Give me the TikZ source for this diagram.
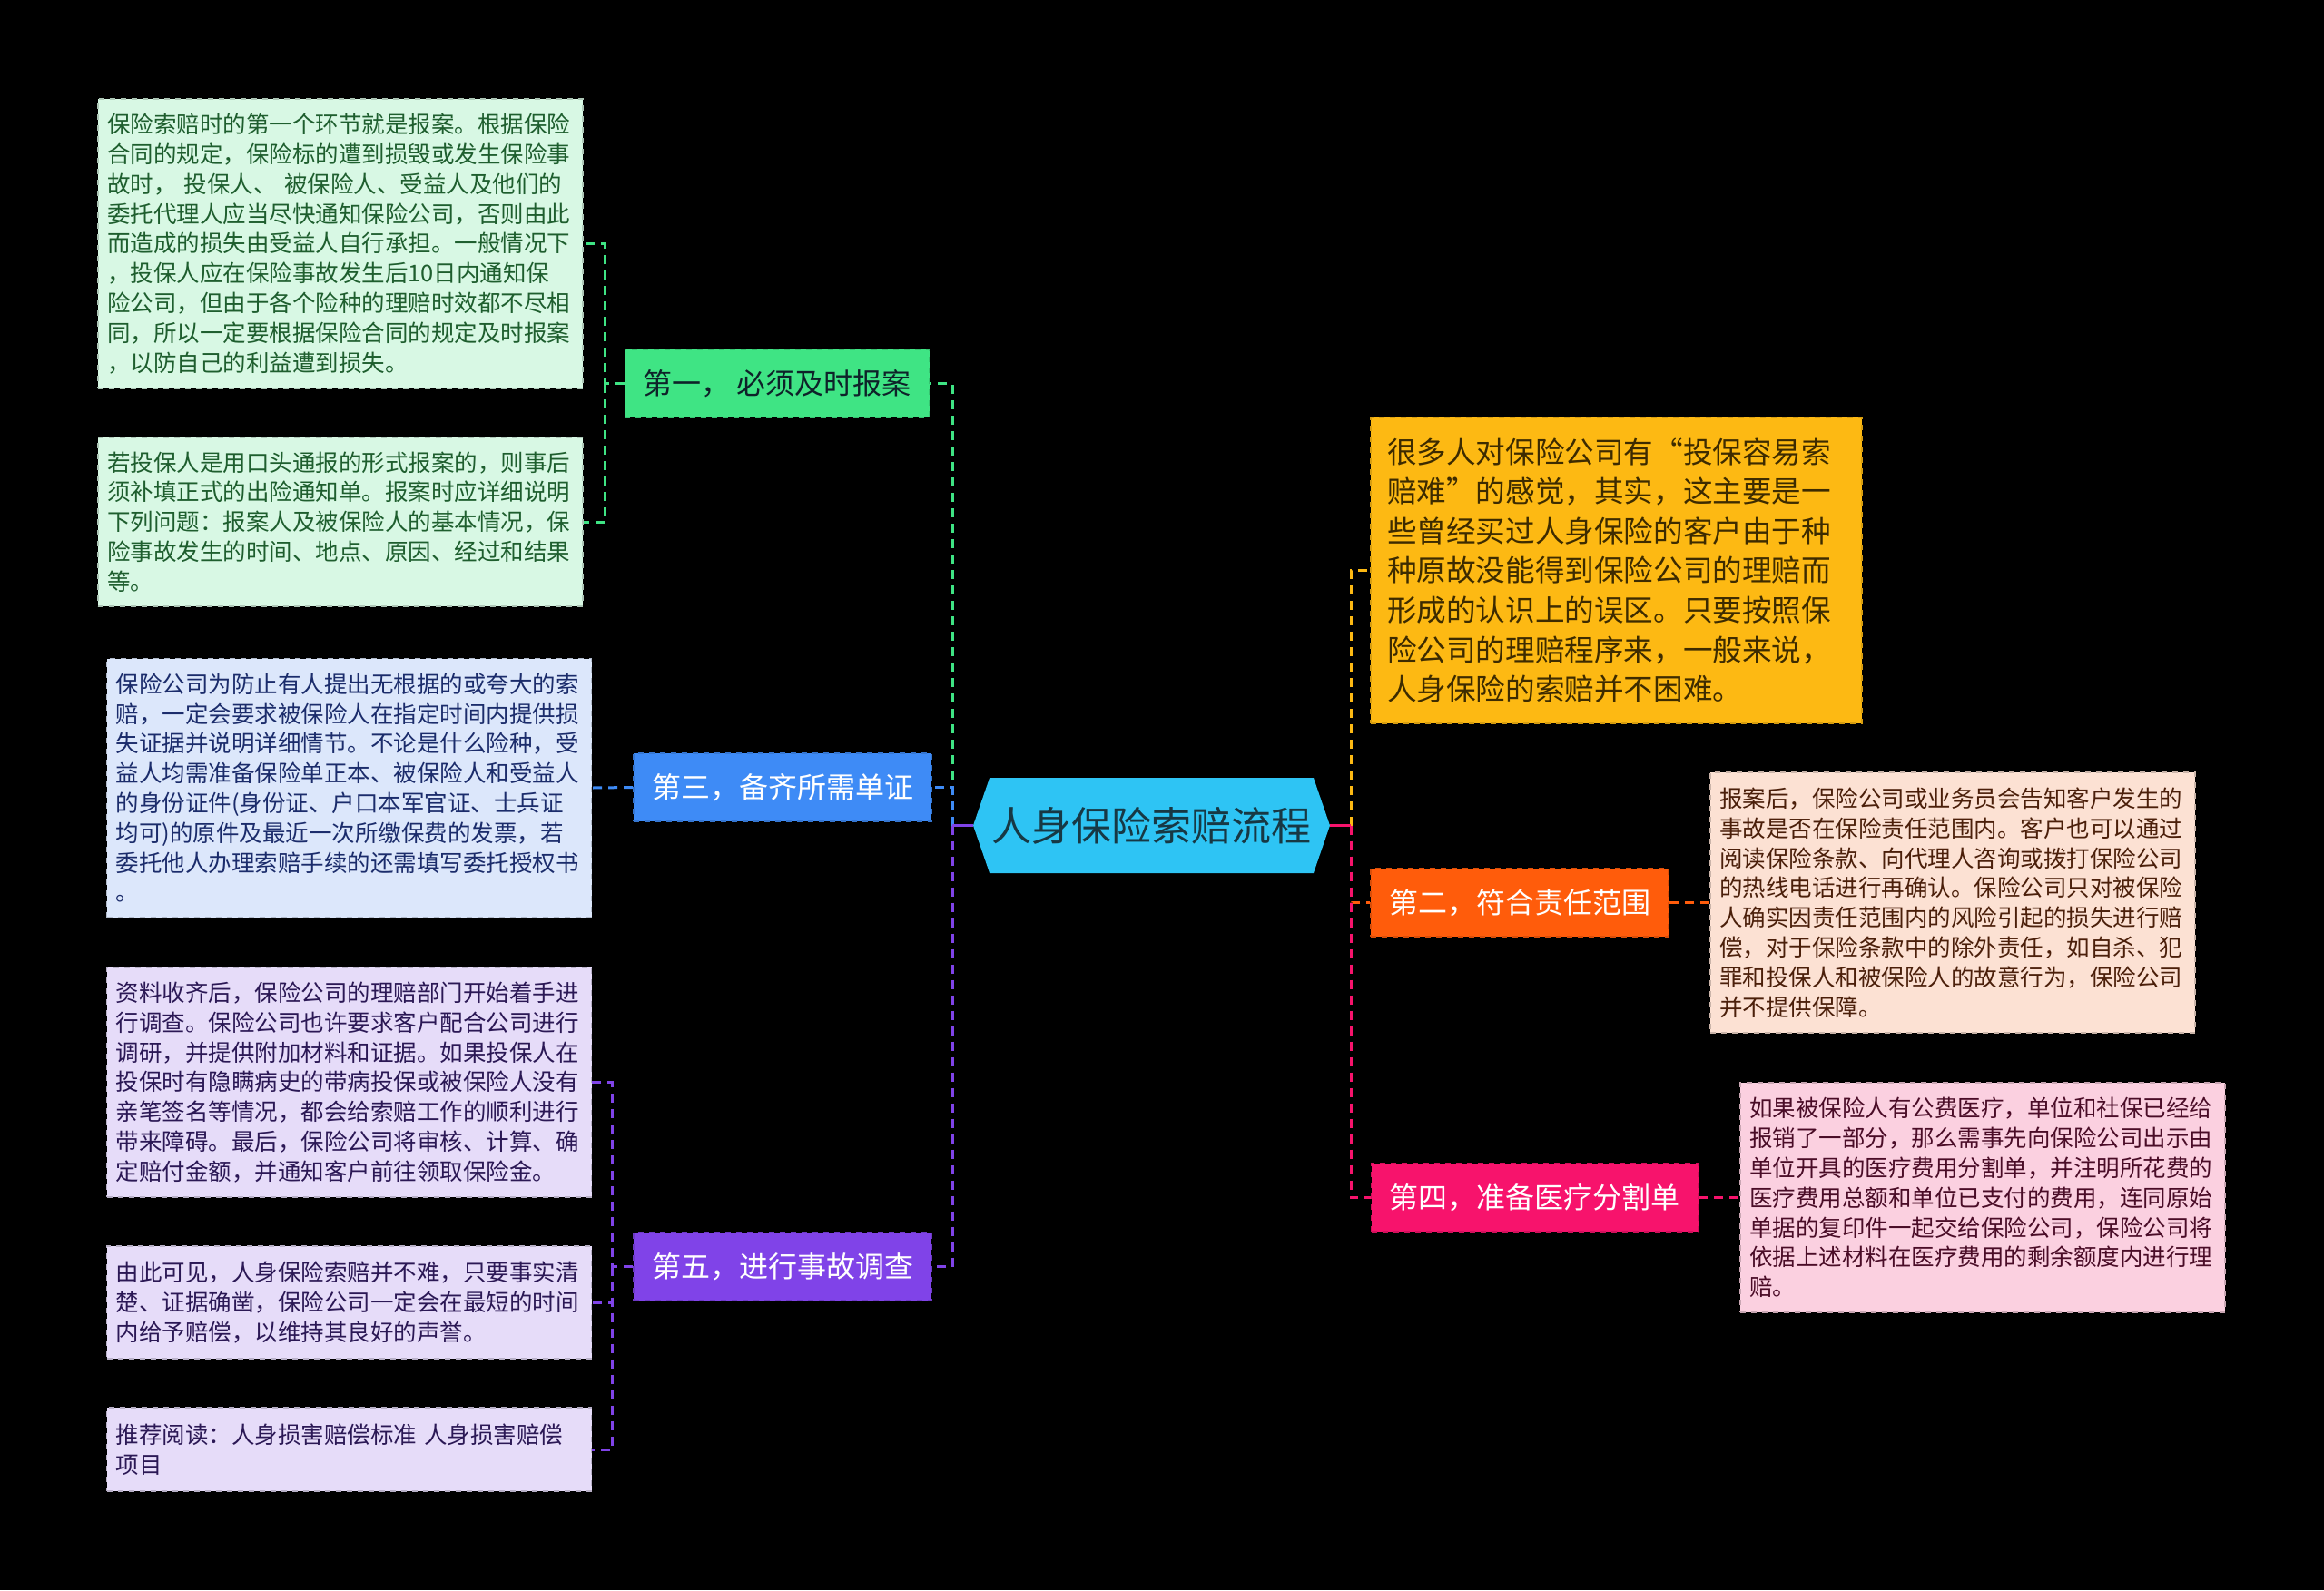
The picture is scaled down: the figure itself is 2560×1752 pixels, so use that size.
\documentclass[tikz,border=0pt]{standalone}
\usepackage{fontspec}
\setmainfont{Noto Sans CJK SC}
\usepackage{tikz}
\usetikzlibrary{shapes.symbols}

\definecolor{rootfill}{HTML}{2EC4F4}
\definecolor{roottext}{HTML}{173844}
\definecolor{greenfill}{HTML}{3FE484}
\definecolor{greenpale}{HTML}{D8F8E4}
\definecolor{greentext}{HTML}{1E5E2E}
\definecolor{bluefill}{HTML}{3E8BF6}
\definecolor{bluepale}{HTML}{DCE7FB}
\definecolor{bluetext}{HTML}{1B2C6B}
\definecolor{purplefill}{HTML}{8043E8}
\definecolor{purplepale}{HTML}{E6DCF9}
\definecolor{purpletext}{HTML}{2B1855}
\definecolor{yellowfill}{HTML}{FDB913}
\definecolor{yellowtext}{HTML}{3D2B00}
\definecolor{orangefill}{HTML}{FF5C0B}
\definecolor{orangepale}{HTML}{FCE1D3}
\definecolor{orangetext}{HTML}{4B1F0A}
\definecolor{pinkfill}{HTML}{F7136C}
\definecolor{pinkpale}{HTML}{FBD0E0}
\definecolor{pinktext}{HTML}{4A0C27}

\begin{document}
\begin{tikzpicture}[
    x=0.5pt, y=-0.5pt,
    rootnode/.style={signal, signal to=west and east, signal pointer angle=142,
        fill=rootfill, text=roottext, minimum width=196.5pt, minimum height=52.5pt,
        inner sep=0pt, font=\fontsize{22}{26}\selectfont},
    stepbox/.style={rectangle, fill=#1, draw=#1!85!black, dashed, line width=0.8pt,
        minimum height=37.5pt, inner xsep=10pt, text=white,
        font=\fontsize{16}{20}\selectfont},
    notebox/.style={rectangle, dashed, line width=0.8pt, align=left,
        text width=257pt, inner xsep=5pt, inner ysep=0pt,
        font=\fontsize{12.75}{16.4}\selectfont},
    branch/.style={line width=1.5pt, dash pattern=on 5pt off 3.5pt},
    stub/.style={line width=1.5pt}
]

    % Background
    \fill[black] (0,0) rectangle (2560,1752);

    % === Root ===
    \node[rootnode] (root) at (1268.5,909.5) {人身保险索赔流程};

    % === Left side ===
    \node[stepbox=greenfill, text=roottext!60!black] (first) at (856,422.5) {第一， 必须及时报案};
    \node[stepbox=bluefill] (third) at (862,867.5) {第三，备齐所需单证};
    \node[stepbox=purplefill] (fifth) at (862,1395.5) {第五，进行事故调查};

    \node[notebox, fill=greenpale, draw=greenpale!80!black, text=greentext,
        minimum height=159.5pt] (report1) at (375,268.5) {保险索赔时的第一个环节就是报案。根据保险\\合同的规定，保险标的遭到损毁或发生保险事\\故时， 投保人、 被保险人、受益人及他们的\\委托代理人应当尽快通知保险公司，否则由此\\而造成的损失由受益人自行承担。一般情况下\\，投保人应在保险事故发生后10日内通知保\\险公司，但由于各个险种的理赔时效都不尽相\\同，所以一定要根据保险合同的规定及时报案\\，以防自己的利益遭到损失。};
    \node[notebox, fill=greenpale, draw=greenpale!80!black, text=greentext,
        minimum height=93pt] (report2) at (375,575) {若投保人是用口头通报的形式报案的，则事后\\须补填正式的出险通知单。报案时应详细说明\\下列问题：报案人及被保险人的基本情况，保\\险事故发生的时间、地点、原因、经过和结果\\等。};
    \node[notebox, fill=bluepale, draw=bluepale!80!black, text=bluetext,
        minimum height=142.5pt] (papers) at (384.5,868) {保险公司为防止有人提出无根据的或夸大的索\\赔，一定会要求被保险人在指定时间内提供损\\失证据并说明详细情节。不论是什么险种，受\\益人均需准备保险单正本、被保险人和受益人\\的身份证件(身份证、户口本军官证、士兵证\\均可)的原件及最近一次所缴保费的发票，若\\委托他人办理索赔手续的还需填写委托授权书\\。};
    \node[notebox, fill=purplepale, draw=purplepale!80!black, text=purpletext,
        minimum height=126.5pt] (survey1) at (384.5,1192.5) {资料收齐后，保险公司的理赔部门开始着手进\\行调查。保险公司也许要求客户配合公司进行\\调研，并提供附加材料和证据。如果投保人在\\投保时有隐瞒病史的带病投保或被保险人没有\\亲笔签名等情况，都会给索赔工作的顺利进行\\带来障碍。最后，保险公司将审核、计算、确\\定赔付金额，并通知客户前往领取保险金。};
    \node[notebox, fill=purplepale, draw=purplepale!80!black, text=purpletext,
        minimum height=62pt] (survey2) at (384.5,1435) {由此可见，人身保险索赔并不难，只要事实清\\楚、证据确凿，保险公司一定会在最短的时间\\内给予赔偿，以维持其良好的声誉。};
    \node[notebox, fill=purplepale, draw=purplepale!80!black, text=purpletext,
        minimum height=46pt] (survey3) at (384.5,1597) {推荐阅读：人身损害赔偿标准 人身损害赔偿\\项目};

    % === Right side ===
    \node[rectangle, fill=yellowfill, draw=yellowfill!85!black, dashed, line width=0.8pt,
        align=left, text width=252.5pt, inner xsep=9pt, inner ysep=0pt,
        minimum height=168.5pt, text=yellowtext,
        font=\fontsize{16.3}{21.8}\selectfont] (intro) at (1780.5,628.5) {很多人对保险公司有“投保容易索\\赔难”的感觉，其实，这主要是一\\些曾经买过人身保险的客户由于种\\种原故没能得到保险公司的理赔而\\形成的认识上的误区。只要按照保\\险公司的理赔程序来，一般来说，\\人身保险的索赔并不困难。};
    \node[stepbox=orangefill] (second) at (1674,994.5) {第二，符合责任范围};
    \node[stepbox=pinkfill] (fourth) at (1690.5,1319.5) {第四，准备医疗分割单};

    \node[notebox, fill=orangepale, draw=orangepale!80!black, text=orangetext,
        minimum height=143.5pt] (scope) at (2151,994.5) {报案后，保险公司或业务员会告知客户发生的\\事故是否在保险责任范围内。客户也可以通过\\阅读保险条款、向代理人咨询或拨打保险公司\\的热线电话进行再确认。保险公司只对被保险\\人确实因责任范围内的风险引起的损失进行赔\\偿，对于保险条款中的除外责任，如自杀、犯\\罪和投保人和被保险人的故意行为，保险公司\\并不提供保障。};
    \node[notebox, fill=pinkpale, draw=pinkpale!80!black, text=pinktext,
        minimum height=126.5pt] (medical) at (2184,1319.5) {如果被保险人有公费医疗，单位和社保已经给\\报销了一部分，那么需事先向保险公司出示由\\单位开具的医疗费用分割单，并注明所花费的\\医疗费用总额和单位已支付的费用，连同原始\\单据的复印件一起交给保险公司，保险公司将\\依据上述材料在医疗费用的剩余额度内进行理\\赔。};

    % === Branches ===
    \coordinate (ltrunk) at (1049,909.5);
    \coordinate (rtrunk) at (1488,909.5);
    \coordinate (firstfork) at (666,422.5);
    \coordinate (fifthfork) at (674,1395.5);

    \draw[branch, greenfill] (ltrunk) -- (ltrunk |- first.east) -- (first.east);
    \draw[branch, bluefill] (ltrunk) -- (ltrunk |- third.east) -- (third.east);
    \draw[branch, purplefill] (ltrunk) -- (ltrunk |- fifth.east) -- (fifth.east);
    \draw[stub, purplefill] (root.west) -- (ltrunk);

    \draw[branch, yellowfill] (rtrunk) -- (rtrunk |- intro.west) -- (intro.west);
    \draw[branch, orangefill] (rtrunk) -- (rtrunk |- second.west) -- (second.west);
    \draw[branch, pinkfill] (rtrunk) -- (rtrunk |- fourth.west) -- (fourth.west);
    \draw[stub, pinkfill] (root.east) -- (rtrunk);

    % children
    \draw[branch, greenfill] (first.west) -- (firstfork) -- (firstfork |- report1.east) -- (report1.east);
    \draw[branch, greenfill] (firstfork) -- (firstfork |- report2.east) -- (report2.east);
    \draw[branch, bluefill] (third.west) -- (papers.east);
    \draw[branch, purplefill] (fifth.west) -- (fifthfork) -- (fifthfork |- survey1.east) -- (survey1.east);
    \draw[branch, purplefill] (fifthfork) -- (fifthfork |- survey2.east) -- (survey2.east);
    \draw[branch, purplefill] (fifthfork) -- (fifthfork |- survey3.east) -- (survey3.east);
    \draw[branch, orangefill] (second.east) -- (scope.west);
    \draw[branch, pinkfill] (fourth.east) -- (medical.west);

\end{tikzpicture}
\end{document}
